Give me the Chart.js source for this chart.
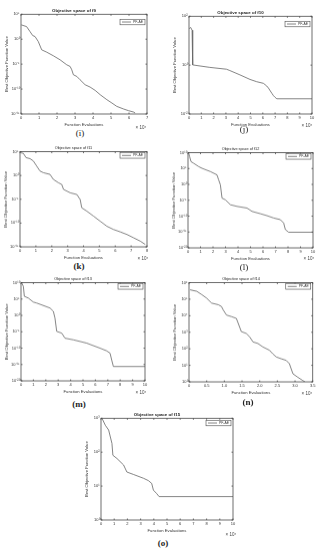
<!DOCTYPE html>
<html><head><meta charset="utf-8">
<script src="https://cdn.jsdelivr.net/npm/chart.js@4.4.1/dist/chart.umd.min.js"></script>
<style>
html,body{margin:0;padding:0;background:#fff;width:321px;height:550px;overflow:hidden;position:relative;font-family:"Liberation Sans",Arial,sans-serif}
.box{position:absolute}
.cap{position:absolute;font-family:"Liberation Serif",serif;font-size:9px;line-height:10px;color:#222;transform:translate(-50%,-50%);white-space:nowrap}
.mul{position:absolute;font-size:4.5px;line-height:5px;color:#444;transform:translate(-50%,-50%);white-space:nowrap}
</style></head><body>
<script>
// ---- data (x in units of 10^4 function evaluations) ----
const legendLabel = "PF-AE";
const xLabel = "Function Evaluations";
const yLabel = "Best Objective Function Value";

const fevals_i = [0.02,0.31,0.5,0.65,0.78,0.96,1.15,1.43,1.8,2.17,2.54,2.73,2.82,2.91,3.1,3.28,3.56,3.84,4.12,4.4,4.77,5.05,5.32,5.7,5.97,6.25,6.34];
const best_i = [741,339,34,5.4,3.4,0.34,7.4e-3,2.5e-3,4.7e-4,7.4e-5,7.4e-6,3.4e-6,7.4e-7,7.4e-8,3.4e-8,7.4e-9,7.4e-10,2.5e-10,5.4e-11,7.4e-12,7.4e-13,1.6e-13,3.4e-14,1e-14,4.7e-15,2.5e-15,1.6e-15];
const yExp_i = [5,0,-5,-10,-15];

const fevals_j = [0.02,0.14,0.25,0.3,1.69,3.05,3.32,4.14,4.96,5.5,6.05,6.32,6.46,6.73,6.87,7.0,7.14,10];
const best_j = [31.6,34.7,26.9,1.02,0.81,0.68,0.60,0.40,0.26,0.21,0.18,0.14,0.115,0.071,0.056,0.048,0.042,0.042];
const yExp_j = [2,0,-2];

const fevals_k = [0.02,0.21,0.38,0.63,0.84,1.05,1.26,1.47,1.89,2.1,2.42,2.63,2.74,3.16,3.58,3.79,3.89,4.21,4.63,5.05,5.47,5.89,6.32,6.74,7.16,7.58,7.89];
const best_k = [6.2e4,4.5e4,5.5e3,3.4e3,1.1e3,95,8.5,3.8,1.7,0.15,0.03,1.3e-2,1.2e-3,2.3e-4,1.0e-4,9.1e-6,1.6e-7,3.2e-8,2.9e-9,2.5e-10,2.2e-11,4.5e-12,1.4e-12,4.0e-13,7.9e-14,1.6e-14,3.2e-15];
const yExp_k = [5,0,-5,-10,-15];

const fevals_l = [0.05,0.13,0.24,0.45,0.85,1.12,1.79,2.32,2.45,2.59,2.72,2.99,3.12,3.39,3.92,4.72,5.12,5.79,6.32,6.85,7.39,7.65,7.79,8.05,10];
const best_l = [9e9,5.6e8,1.5e7,4.6e6,4.1e5,1.2e5,1.1e4,1e3,27,0.74,4.9e-5,1.4e-5,4.4e-6,4.0e-7,1.2e-7,3.5e-8,3.2e-9,5.9e-10,1.4e-10,2.6e-11,7.9e-12,7.1e-13,5.8e-15,8.3e-16,8.3e-16];
const yExp_l = [10,5,0,-5,-10,-15,-20];

const fevals_m = [0.05,0.19,0.27,0.59,0.99,1.26,2.34,2.61,2.74,2.88,3.28,3.55,4.22,5.3,6.37,6.91,7.18,7.31,7.45,10];
const best_m = [9.5e9,7.6e8,6.6e5,2.0e5,1.2e4,6.0e3,180,17,0.15,1.3e-5,3.9e-6,1.1e-7,3.5e-8,3.4e-9,1e-10,1.5e-11,3.0e-12,2.7e-14,2.5e-16,2.5e-16];
const yExp_m = [10,5,0,-5,-10,-15,-20];

const fevals_n = [0.03,0.22,0.36,0.5,0.64,0.83,0.92,0.97,1.06,1.2,1.34,1.48,1.62,1.72,1.81,1.95,2.09,2.28,2.37,2.47,2.61,2.75,2.84,2.94,3.08,3.22,3.28];
const best_n = [3.7e5,3.0e5,1.9e5,1.15e5,5.8e4,4.6e4,3.6e4,2.2e4,1.1e4,8.9e3,6.9e3,1.1e3,850,520,260,210,130,81,50,32,25,20,12.6,3.1,1.9,1.2,1.0];
const yExp_n = [6,5,4,3,2,1,0];

const fevals_o = [0.08,0.33,0.58,0.83,0.9,1.21,1.71,1.96,2.46,3.22,3.59,3.84,3.97,4.22,4.4,10];
const best_o = [990,620,450,180,81,65,42,26,22,17,14.5,12,7.6,6.0,4.9,4.9];
const yExp_o = [3,2,1,0];

// ---- helpers ----
const SUP = {'0':'⁰','1':'¹','2':'²','3':'³','4':'⁴','5':'⁵','6':'⁶','7':'⁷','8':'⁸','9':'⁹','-':'⁻'};
const sup = n => String(n).split('').map(c => SUP[c]).join('');
const FONT = "'Liberation Sans', Arial, sans-serif";
const AX = '#4a4a4a';

const framePlugin = {
  id: 'frame',
  afterDraw(chart) {
    const {ctx, chartArea: a, scales} = chart;
    ctx.save();
    ctx.strokeStyle = AX; ctx.lineWidth = 0.8;
    ctx.strokeRect(a.left, a.top, a.right - a.left, a.bottom - a.top);
    ctx.beginPath();
    scales.x.ticks.forEach(t => {
      const px = scales.x.getPixelForValue(t.value);
      ctx.moveTo(px, a.bottom); ctx.lineTo(px, a.bottom - 1.5);
      ctx.moveTo(px, a.top); ctx.lineTo(px, a.top + 1.5);
    });
    scales.y.ticks.forEach(t => {
      const py = scales.y.getPixelForValue(t.value);
      ctx.moveTo(a.left, py); ctx.lineTo(a.left + 1.5, py);
      ctx.moveTo(a.right, py); ctx.lineTo(a.right - 1.5, py);
    });
    ctx.stroke();
    // legend box, top-right inside the axes
    const ds = chart.data.datasets[0];
    ctx.font = '3.4px ' + FONT;
    const tw = ctx.measureText(ds.label).width;
    const lw = 9, bw = 2 + lw + 2 + tw + 2, bh = 5.5;
    const off = chart.options.legendOffset || 2;
    const bx = a.right - 2 - bw, by = a.top + off;
    ctx.fillStyle = '#fff';
    ctx.fillRect(bx, by, bw, bh);
    ctx.lineWidth = 0.6; ctx.strokeStyle = AX;
    ctx.strokeRect(bx, by, bw, bh);
    ctx.beginPath();
    ctx.strokeStyle = ds.borderColor; ctx.lineWidth = ds.borderWidth;
    ctx.moveTo(bx + 2, by + bh / 2); ctx.lineTo(bx + 2 + lw, by + bh / 2);
    ctx.stroke();
    ctx.fillStyle = '#333'; ctx.textBaseline = 'middle'; ctx.textAlign = 'left';
    ctx.fillText(ds.label, bx + 2 + lw + 2, by + bh / 2 + 0.2);
    ctx.restore();
  }
};

function panel(p) {
  const YW = 20, XH = 14, RP = 4;
  const TH = p.titleSize * 1.2 + 2;
  const left = p.L - YW, top = p.T - TH;
  const w = p.R - p.L + YW + RP, h = p.B - p.T + TH + XH;
  const div = document.createElement('div');
  div.className = 'box';
  div.style.left = left + 'px'; div.style.top = top + 'px';
  div.style.width = w + 'px'; div.style.height = h + 'px';
  const cv = document.createElement('canvas');
  cv.width = w; cv.height = h; cv.style.width = w + 'px'; cv.style.height = h + 'px';
  div.appendChild(cv);
  document.body.appendChild(div);

  const cap = document.createElement('div');
  cap.className = 'cap'; cap.textContent = p.caption;
  cap.style.left = p.capX + 'px'; cap.style.top = p.capY + 'px';
  cap.style.fontWeight = p.capBold ? 'bold' : 'normal';
  document.body.appendChild(cap);

  const mul = document.createElement('div');
  mul.className = 'mul'; mul.textContent = '× 10' + sup(4);
  mul.style.left = p.mulX + 'px'; mul.style.top = p.mulY + 'px';
  document.body.appendChild(mul);

  const tf = {family: FONT, size: 4};
  new Chart(cv, {
    type: 'scatter',
    data: {datasets: [{
      label: legendLabel,
      data: p.x.map((x, i) => ({x: x, y: p.y[i]})),
      showLine: true, borderColor: '#666', backgroundColor: '#666',
      borderWidth: 0.8, pointRadius: 0, tension: 0, fill: false
    }]},
    options: {
      responsive: false, animation: false, devicePixelRatio: 1,
      legendOffset: p.legOff,
      layout: {padding: {left: 0, top: 0, right: RP, bottom: 0}},
      plugins: {
        title: {display: true, text: p.title, color: '#222',
          font: {family: FONT, size: p.titleSize, weight: p.titleBold ? 'bold' : 'normal'},
          padding: {top: 1, bottom: 1}},
        legend: {display: false},
        tooltip: {enabled: false}
      },
      scales: {
        x: {type: 'linear', min: 0, max: p.xMax,
          ticks: {stepSize: p.xStep, font: tf, color: '#333', padding: 1.5, maxRotation: 0, autoSkip: false},
          grid: {display: false, drawTicks: false}, border: {display: false},
          title: {display: true, text: xLabel, font: {family: FONT, size: 4.2}, color: '#333', padding: {top: 0, bottom: 1}},
          afterFit: s => { s.height = XH; }},
        y: {type: 'logarithmic', min: Math.pow(10, Math.min(...p.yExp)), max: Math.pow(10, Math.max(...p.yExp)),
          afterBuildTicks: s => { s.ticks = p.yExp.map(e => ({value: Math.pow(10, e)})); },
          ticks: {font: tf, color: '#333', padding: 1.5, autoSkip: false,
            callback: v => '10' + sup(Math.round(Math.log10(v)))},
          grid: {display: false, drawTicks: false}, border: {display: false},
          title: {display: true, text: yLabel, font: {family: FONT, size: 4.2}, color: '#333', padding: {top: 3.5, bottom: 0}},
          afterFit: s => { s.width = YW; }}
      }
    },
    plugins: [framePlugin]
  });
}

panel({L:21,T:14,R:147,B:114,title:'Objective space of f9',titleBold:true,titleSize:4.4,xMax:7,xStep:1,yExp:yExp_i,x:fevals_i,y:best_i,caption:'(i)',capBold:false,capX:80,capY:133,mulX:141,mulY:127,legOff:5});
panel({L:189,T:16,R:312,B:114,title:'Objective space of f10',titleBold:true,titleSize:4.4,xMax:10,xStep:1,yExp:yExp_j,x:fevals_j,y:best_j,caption:'(j)',capBold:false,capX:244,capY:129,mulX:307,mulY:125,legOff:5});
panel({L:20,T:152,R:147,B:247,title:'Objective space of f11',titleBold:false,titleSize:3.8,xMax:8,xStep:1,yExp:yExp_k,x:fevals_k,y:best_k,caption:'(k)',capBold:true,capX:79,capY:266,mulX:143,mulY:258,legOff:1});
panel({L:188,T:153,R:313,B:248,title:'Objective space of f12',titleBold:false,titleSize:3.8,xMax:10,xStep:1,yExp:yExp_l,x:fevals_l,y:best_l,caption:'(l)',capBold:false,capX:244,capY:267,mulX:309,mulY:258,legOff:1});
panel({L:21,T:283,R:145,B:381,title:'Objective space of f13',titleBold:false,titleSize:3.8,xMax:10,xStep:1,yExp:yExp_m,x:fevals_m,y:best_m,caption:'(m)',capBold:true,capX:79,capY:404,mulX:141,mulY:392,legOff:1});
panel({L:189,T:283,R:313,B:382,title:'Objective space of f14',titleBold:false,titleSize:3.8,xMax:3.5,xStep:0.5,yExp:yExp_n,x:fevals_n,y:best_n,caption:'(n)',capBold:true,capX:248,capY:402,mulX:307,mulY:393,legOff:1});
panel({L:101,T:418,R:233,B:520,title:'Objective space of f15',titleBold:true,titleSize:4.4,xMax:10,xStep:1,yExp:yExp_o,x:fevals_o,y:best_o,caption:'(o)',capBold:true,capX:163,capY:543,mulX:231,mulY:534,legOff:2});
</script>
</body></html>
